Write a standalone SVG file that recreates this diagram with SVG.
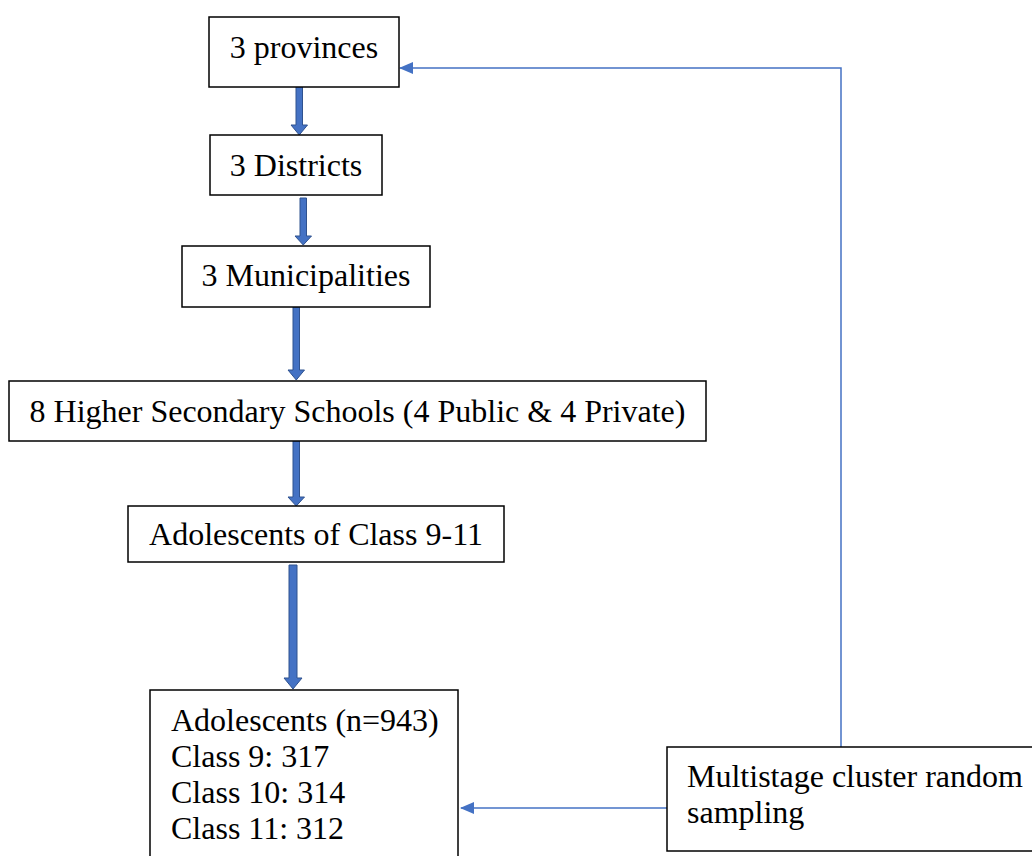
<svg xmlns="http://www.w3.org/2000/svg" width="1032" height="856" viewBox="0 0 1032 856">
<defs>
<style>
.box{fill:#fff;stroke:#000;stroke-width:1.5}
.t{font-family:"Liberation Serif","Times New Roman",serif;font-size:32px;fill:#000}
.blk{fill:#4472C4;stroke:#2F528F;stroke-width:1}
.thin{fill:none;stroke:#4472C4;stroke-width:1.5}
</style>
<marker id="ah" viewBox="0 0 14 12" refX="13" refY="6" markerWidth="14" markerHeight="12" markerUnits="userSpaceOnUse" orient="auto">
<path d="M0,0 L14,6 L0,12 Z" fill="#4472C4"/>
</marker>
</defs>
<rect width="1032" height="856" fill="#fff"/>
<g id="connectors">
<path class="blk" d="M296,85 H302.5 V125 H307.5 L299.25,135 L291,125 H296 Z"/>
<path class="blk" d="M300,198 H306.5 V236 H311.5 L303.25,245 L295,236 H300 Z"/>
<path class="blk" d="M293,307 H299.5 V370 H304.5 L296.25,380 L288,370 H293 Z"/>
<path class="blk" d="M293,441 H299.5 V497 H304.5 L296.25,506 L288,497 H293 Z"/>
<path class="blk" d="M289,565 H297 V678 H302 L293,689 L284,678 H289 Z"/>
<polyline class="thin" points="841,747 841,68 400,68" marker-end="url(#ah)"/>
<line class="thin" x1="667" y1="808" x2="461" y2="808" marker-end="url(#ah)"/>
</g>
<g id="n1"><rect class="box" x="209" y="17" width="190" height="70"/><text class="t" x="304" y="58" text-anchor="middle">3 provinces</text></g>
<g id="n2"><rect class="box" x="210" y="135" width="172" height="60"/><text class="t" x="296" y="176" text-anchor="middle">3 Districts</text></g>
<g id="n3"><rect class="box" x="182" y="246" width="248" height="61"/><text class="t" x="306" y="286" text-anchor="middle">3 Municipalities</text></g>
<g id="n4"><rect class="box" x="9" y="381" width="697" height="60"/><text class="t" x="357.5" y="422" text-anchor="middle">8 Higher Secondary Schools (4 Public &amp; 4 Private)</text></g>
<g id="n5"><rect class="box" x="128" y="506" width="376" height="56"/><text class="t" x="316" y="545" text-anchor="middle">Adolescents of Class 9-11</text></g>
<g id="n6"><rect class="box" x="150" y="690" width="308" height="170"/>
<text class="t" x="171" y="731">Adolescents (n=943)</text>
<text class="t" x="171" y="767">Class 9: 317</text>
<text class="t" x="171" y="803">Class 10: 314</text>
<text class="t" x="171" y="839">Class 11: 312</text></g>
<g id="n7"><rect class="box" x="667" y="747" width="370" height="104"/>
<text class="t" x="687" y="787">Multistage cluster random</text>
<text class="t" x="687" y="823">sampling</text></g>
</svg>
